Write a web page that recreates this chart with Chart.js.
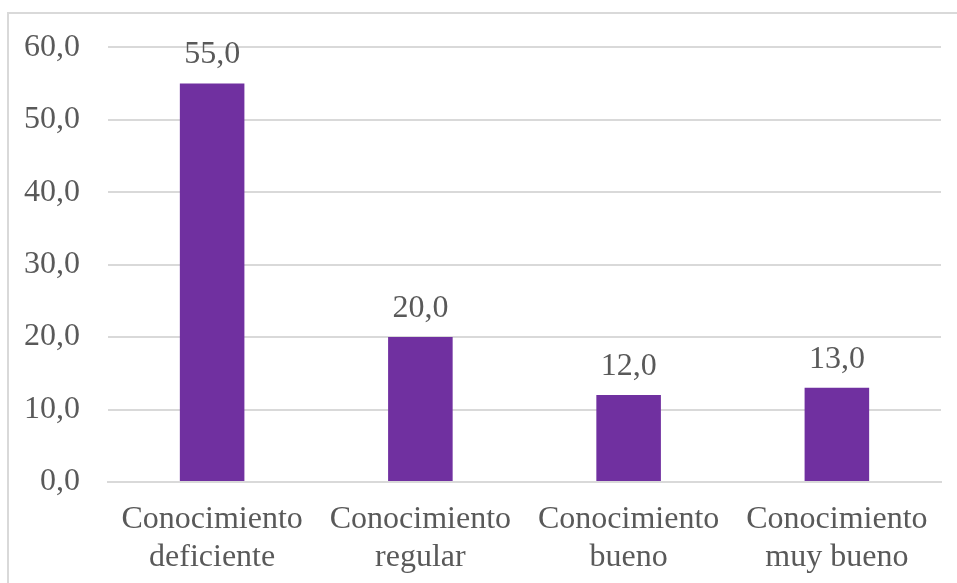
<!DOCTYPE html>
<html lang="es">
<head>
  <meta charset="UTF-8">
  <title>Nivel de conocimiento</title>
  <script src="https://cdn.jsdelivr.net/npm/chart.js"></script>
  <style>
    body { margin: 0; background: #fff; }
    canvas { display: block; }
  </style>
</head>
<body>
  <canvas id="knowChart" width="957" height="583"></canvas>
  <script>
    const categories = [
      ['Conocimiento', 'deficiente'],
      ['Conocimiento', 'regular'],
      ['Conocimiento', 'bueno'],
      ['Conocimiento', 'muy bueno']
    ];
    const percentages = [55.0, 20.0, 12.0, 13.0];

    const textColor = '#595959';
    const gridColor = '#d9d9d9';
    const serif = 'Liberation Serif, Times New Roman, serif';

    // comma decimal, one place
    function fmt(v) {
      return v.toFixed(1).replace('.', ',');
    }

    // light frame around the chart, runs off the right and bottom edges
    const framePlugin = {
      id: 'frame',
      beforeDraw(chart) {
        const c = chart.ctx;
        c.save();
        c.fillStyle = '#fff';
        c.fillRect(0, 0, chart.width, chart.height);
        c.strokeStyle = gridColor;
        c.lineWidth = 2;
        c.strokeRect(8, 13, chart.width + 20, chart.height + 20);
        c.restore();
      }
    };

    // value labels above each bar
    const valueLabels = {
      id: 'valueLabels',
      afterDatasetsDraw(chart) {
        const c = chart.ctx;
        const meta = chart.getDatasetMeta(0);
        c.save();
        c.font = '32px ' + serif;
        c.fillStyle = textColor;
        c.textAlign = 'center';
        c.textBaseline = 'alphabetic';
        meta.data.forEach((bar, i) => {
          c.fillText(fmt(percentages[i]), bar.x, bar.y - 20);
        });
        c.restore();
      }
    };

    const ctx = document.getElementById('knowChart').getContext('2d');
    new Chart(ctx, {
      type: 'bar',
      data: {
        labels: categories,
        datasets: [{
          data: percentages,
          backgroundColor: '#7030a0',
          categoryPercentage: 1,
          barPercentage: 0.31
        }]
      },
      options: {
        responsive: false,
        animation: false,
        layout: { padding: { top: 45, right: 16, left: 0, bottom: 0 } },
        plugins: {
          legend: { display: false },
          tooltip: { enabled: false }
        },
        scales: {
          x: {
            grid: { display: false, drawTicks: false },
            border: { display: true, color: gridColor, width: 2 },
            ticks: {
              color: textColor,
              font: { family: serif, size: 32, lineHeight: 1.17 },
              padding: 19,
              maxRotation: 0,
              autoSkip: false
            },
            afterFit(scale) { scale.height = 101; }
          },
          y: {
            min: 0,
            max: 60,
            grid: { color: gridColor, lineWidth: 2, drawTicks: false },
            border: { display: false },
            ticks: {
              stepSize: 10,
              color: textColor,
              font: { family: serif, size: 32 },
              padding: 28,
              callback: (v) => fmt(v)
            },
            afterFit(scale) { scale.width = 108; }
          }
        }
      },
      plugins: [framePlugin, valueLabels]
    });
  </script>
</body>
</html>
